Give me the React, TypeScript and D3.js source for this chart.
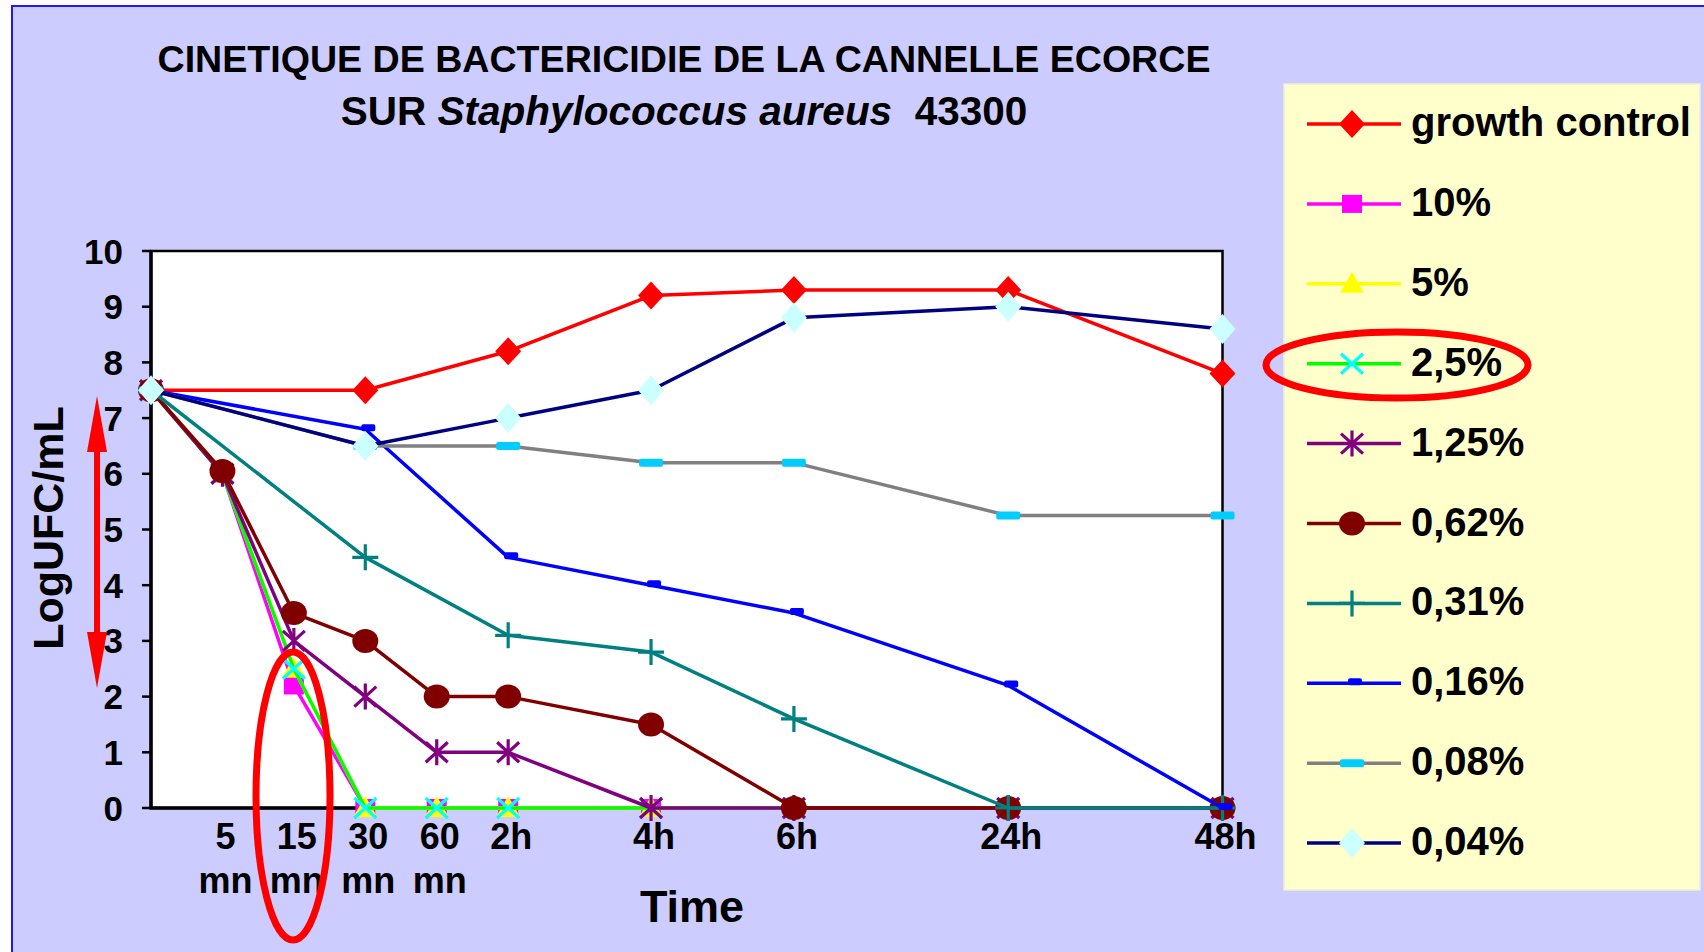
import React from "react";
import * as d3 from "d3";

// ---------- data ----------
const timeLabels = ["0", "5 mn", "15 mn", "30 mn", "60 mn", "2h", "4h", "6h", "24h", "48h"];
const timeSlots = [0, 1, 2, 3, 4, 5, 7, 9, 12, 15];
const tickLine1 = ["", "5", "15", "30", "60", "2h", "4h", "6h", "24h", "48h"];
const tickLine2 = ["", "mn", "mn", "mn", "mn", "", "", "", "", ""];
const yTicks = [0, 1, 2, 3, 4, 5, 6, 7, 8, 9, 10];

const growthControl = [7.5, null, null, 7.5, null, 8.2, 9.2, 9.3, 9.3, 7.8];
const conc10 = [7.5, 6.0, 2.2, 0, 0, 0, 0, 0, 0, 0];
const conc5 = [7.5, 6.0, 2.5, 0, 0, 0, 0, 0, 0, 0];
const conc2_5 = [7.5, 6.0, 2.5, 0, 0, 0, 0, 0, 0, 0];
const conc1_25 = [7.5, 6.0, 3.0, 2.0, 1.0, 1.0, 0, 0, 0, 0];
const conc0_62 = [7.5, 6.05, 3.5, 3.0, 2.0, 2.0, 1.5, 0, 0, 0];
const conc0_31 = [7.5, null, null, 4.5, null, 3.1, 2.8, 1.6, 0, 0];
const conc0_16 = [7.5, null, null, 6.8, null, 4.5, 4.0, 3.5, 2.2, 0];
const conc0_08 = [7.5, null, null, 6.5, null, 6.5, 6.2, 6.2, 5.25, 5.25];
const conc0_04 = [7.5, null, null, 6.5, null, 7.0, 7.5, 8.8, 9.0, 8.6];

const seriesNames = ["growth control", "10%", "5%", "2,5%", "1,25%", "0,62%", "0,31%", "0,16%", "0,08%", "0,04%"];
const seriesValues = [growthControl, conc10, conc5, conc2_5, conc1_25, conc0_62, conc0_31, conc0_16, conc0_08, conc0_04];
const lineColors = ["#FF0000", "#FF00FF", "#FFFF00", "#00FF00", "#800080", "#800000", "#008080", "#0000FF", "#808080", "#000080"];
const markerKinds = ["diamond", "square", "triangle", "x", "star", "circle", "plus", "dash", "longdash", "bigdiamond"];
const markerColors = ["#FF0000", "#FF00FF", "#FFFF00", "#00FFFF", "#800080", "#800000", "#008080", "#0000FF", "#00CCFF", "#CCFFFF"];

const titleLine1 = "CINETIQUE DE BACTERICIDIE DE LA CANNELLE ECORCE";
const titleLine2a = "SUR ";
const titleLine2b = "Staphylococcus aureus";
const titleLine2c = "  43300";
const yAxisTitle = "LogUFC/mL";
const xAxisTitle = "Time";

const FONT = "'Liberation Sans', Arial, Helvetica, sans-serif";

function Marker({ kind, color, x, y }: { kind: string; color: string; x: number; y: number }) {
  switch (kind) {
    case "diamond":
      return <path d={`M${x},${y - 14}L${x + 13},${y}L${x},${y + 14}L${x - 13},${y}Z`} fill={color} />;
    case "bigdiamond":
      return <path d={`M${x},${y - 15}L${x + 13},${y}L${x},${y + 15}L${x - 13},${y}Z`} fill={color} />;
    case "square":
      return <rect x={x - 10} y={y - 9} width={20} height={18} fill={color} />;
    case "triangle":
      return <path d={`M${x},${y - 12}L${x + 12},${y + 9}L${x - 12},${y + 9}Z`} fill={color} />;
    case "x":
      return (
        <path
          d={`M${x - 11},${y - 10}L${x + 11},${y + 10}M${x - 11},${y + 10}L${x + 11},${y - 10}`}
          stroke={color}
          strokeWidth={3.2}
          fill="none"
        />
      );
    case "star":
      return (
        <path
          d={`M${x - 11},${y - 10}L${x + 11},${y + 10}M${x - 11},${y + 10}L${x + 11},${y - 10}M${x},${y - 13}L${x},${y + 13}`}
          stroke={color}
          strokeWidth={3.2}
          fill="none"
        />
      );
    case "circle":
      return <ellipse cx={x} cy={y} rx={13} ry={12} fill={color} />;
    case "plus":
      return (
        <path
          d={`M${x - 13},${y}L${x + 13},${y}M${x},${y - 13}L${x},${y + 13}`}
          stroke={color}
          strokeWidth={3.2}
          fill="none"
        />
      );
    case "dash":
      return <rect x={x - 4} y={y - 5} width={14} height={7} rx={2} fill={color} />;
    case "longdash":
      return <rect x={x - 12} y={y - 4} width={24} height={8} rx={2} fill={color} />;
    default:
      return null;
  }
}

export default function App() {
  const W = 1704;
  const H = 952;
  const plotLeft = 151;
  const plotRight = 1222.5;
  const plotTop = 251;
  const plotBottom = 808;

  const x = d3.scaleLinear().domain([0, 15]).range([plotLeft, plotRight]);
  const y = d3.scaleLinear().domain([0, 10]).range([plotBottom, plotTop]);

  const line = d3
    .line<{ slot: number; v: number }>()
    .x((d) => x(d.slot))
    .y((d) => y(d.v));

  const legendX = 1284;
  const legendY = 84;
  const legendW = 416;
  const legendH = 806;
  const legendFirst = 124;
  const legendStep = 79.9;

  return (
    <div style={{ position: "absolute", left: 0, top: 0 }}>
      <svg width={W} height={H} style={{ display: "block" }} fontFamily={FONT}>
        <rect x={0} y={0} width={W} height={H} fill="#FFFFFF" />
        <rect x={12} y={6} width={W} height={H} fill="#CCCCFF" stroke="#1A1AFF" strokeWidth={2} />

        {/* title */}
        <text x={684} y={72} textAnchor="middle" fontSize={37.6} fontWeight="bold" fill="#000">
          {titleLine1}
        </text>
        <text x={684} y={125} textAnchor="middle" fontSize={40.5} fontWeight="bold" fill="#000" xmlSpace="preserve">
          <tspan>{titleLine2a}</tspan>
          <tspan fontStyle="italic">{titleLine2b}</tspan>
          <tspan>{titleLine2c}</tspan>
        </text>

        {/* plot area */}
        <rect
          x={plotLeft}
          y={plotTop}
          width={plotRight - plotLeft}
          height={plotBottom - plotTop}
          fill="#FFFFFF"
          stroke="#000"
          strokeWidth={2.5}
        />
        <line x1={plotLeft} x2={plotLeft} y1={plotTop} y2={plotBottom} stroke="#000" strokeWidth={3.5} />
        <line x1={plotLeft - 1.5} x2={plotRight} y1={plotBottom} y2={plotBottom} stroke="#000" strokeWidth={3.5} />

        {/* y ticks */}
        {yTicks.map((t) => (
          <g key={t}>
            <line x1={plotLeft - 9} x2={plotLeft} y1={y(t)} y2={y(t)} stroke="#000" strokeWidth={2.5} />
            <text x={123} y={y(t) + 12.5} textAnchor="end" fontSize={35} fontWeight="bold" fill="#000">
              {t}
            </text>
          </g>
        ))}

        {/* x tick labels */}
        {timeSlots.map((s, i) => (
          <g key={timeLabels[i]}>
            <text x={x(s) + 3} y={849} textAnchor="middle" fontSize={36} fontWeight="bold" fill="#000">
              {tickLine1[i]}
            </text>
            <text x={x(s) + 3} y={893} textAnchor="middle" fontSize={36} fontWeight="bold" fill="#000">
              {tickLine2[i]}
            </text>
          </g>
        ))}

        {/* axis titles */}
        <text x={692} y={922} textAnchor="middle" fontSize={45} fontWeight="bold" fill="#000">
          {xAxisTitle}
        </text>
        <text
          transform={`translate(63,528) rotate(-90)`}
          textAnchor="middle"
          fontSize={43}
          fontWeight="bold"
          fill="#000"
        >
          {yAxisTitle}
        </text>

        {/* series */}
        {seriesValues.map((vals, si) => {
          const pts = vals
            .map((v, i) => ({ slot: timeSlots[i], v: v as number }))
            .filter((d, i) => vals[i] !== null);
          return (
            <g key={seriesNames[si]}>
              <path d={line(pts) || ""} fill="none" stroke={lineColors[si]} strokeWidth={3.5} strokeLinejoin="round" />
              {pts.map((d, j) => (
                <Marker key={j} kind={markerKinds[si]} color={markerColors[si]} x={x(d.slot)} y={y(d.v)} />
              ))}
            </g>
          );
        })}

        {/* legend */}
        <rect x={legendX} y={legendY} width={legendW} height={legendH} fill="#FFFFCC" stroke="#EEEEDD" strokeWidth={1.5} />
        {seriesNames.map((name, i) => {
          const ly = legendFirst + i * legendStep;
          return (
            <g key={name}>
              <line x1={1307} x2={1401} y1={ly} y2={ly} stroke={lineColors[i]} strokeWidth={3.5} />
              <Marker kind={markerKinds[i]} color={markerColors[i]} x={1352} y={ly} />
              <text x={1411} y={ly + 12} fontSize={40} fontWeight="bold" fill="#000">
                {name}
              </text>
            </g>
          );
        })}

        {/* red annotations */}
        <ellipse cx={293} cy={796} rx={37} ry={144} fill="none" stroke="#FF0000" strokeWidth={7} />
        <ellipse cx={1397} cy={365} rx={131} ry={33} fill="none" stroke="#FF0000" strokeWidth={7} />
        <g fill="#FF0000">
          <rect x={94} y={440} width={6} height={200} />
          <path d="M97,396L107,452L87,452Z" />
          <path d="M97,688L107,632L87,632Z" />
        </g>
      </svg>
    </div>
  );
}
